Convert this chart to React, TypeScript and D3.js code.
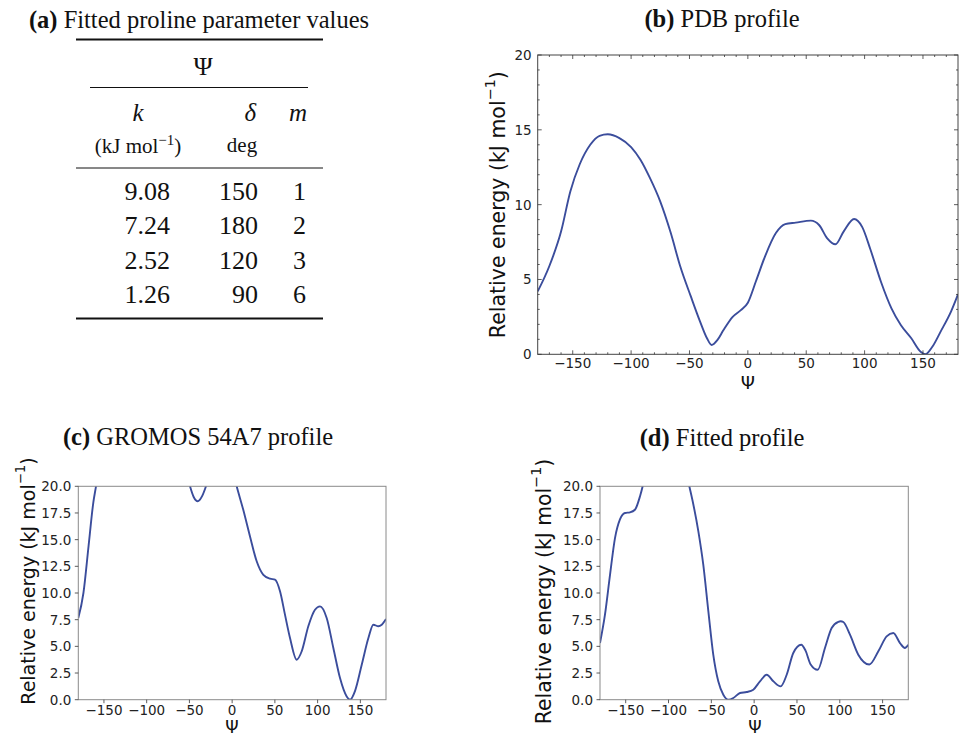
import React from "react";
import * as d3 from "d3";

// ---------- data ----------
const kValues = ["9.08", "7.24", "2.52", "1.26"];
const deltaValues = ["150", "180", "120", "90"];
const mValues = ["1", "2", "3", "6"];

const xTicks = [-150, -100, -50, 0, 50, 100, 150];
const yTicksB = [0, 5, 10, 15, 20];
const yTicksCD = [0, 2.5, 5, 7.5, 10, 12.5, 15, 17.5, 20];

const psiPDB = [-180, -170, -160, -152, -144, -135, -127, -120, -110, -100, -92, -84, -75, -66, -58, -49, -41, -35, -31, -26, -21, -13, -6, 0, 7, 15, 24, 32, 41, 54, 61, 68, 75, 82, 91, 98, 105, 114, 123, 131, 140, 148, 152, 158, 165, 174, 180];
const ePDB = [4.2, 5.9, 8.2, 10.9, 12.7, 14.0, 14.6, 14.7, 14.45, 13.85, 13.0, 11.8, 10.2, 8.1, 5.9, 3.9, 2.2, 1.07, 0.62, 0.96, 1.6, 2.5, 2.95, 3.45, 4.9, 6.6, 8.1, 8.7, 8.8, 8.93, 8.64, 7.75, 7.35, 8.2, 9.04, 8.5, 7.0, 4.85, 3.07, 1.96, 1.07, 0.17, 0, 0.5, 1.5, 2.85, 4.0];

const psiGromos = [-180, -174, -168, -162.4, -159.3, -155, -140, -110, -80, -60, -49.3, -45, -40.3, -35, -30.6, -25, -15, -5, 0, 5.3, 13, 20.9, 28.7, 36.5, 44.3, 50.1, 56, 61.8, 67.7, 75.5, 81.4, 89.1, 96.9, 102.8, 110.6, 118.4, 126.2, 134, 137.9, 143.7, 151.6, 159.4, 165.2, 171.1, 175, 180];
const eGromos = [7.66, 10.0, 14.4, 18.5, 20, 22.3, 27, 31, 29, 24, 20, 19.0, 18.6, 19.1, 20, 21.5, 23.5, 23, 21.7, 20, 17.8, 15.3, 12.97, 11.7, 11.34, 11.25, 10.16, 7.97, 5.78, 3.75, 4.54, 6.88, 8.43, 8.75, 7.66, 4.85, 2.03, 0.31, 0, 0.81, 3.28, 5.78, 7.03, 6.88, 7.03, 7.56];

const psiFit = [-180, -174.2, -168.3, -162.5, -156.7, -150.8, -145, -139.2, -133.3, -130.2, -125, -110, -90, -80, -75.7, -71, -65.2, -59.4, -53.5, -47.7, -41.9, -36, -30.2, -24.3, -16.5, -8.7, -1, 6.8, 14.6, 22.4, 30.9, 38, 45.7, 55, 60, 66, 74.2, 82.7, 90.5, 98.3, 101, 104.1, 111.9, 121.6, 134.5, 145, 154.7, 162.5, 170.3, 176, 180];
const eFit = [5.31, 7.97, 11.7, 15.15, 16.9, 17.5, 17.56, 17.8, 19.06, 20, 22.5, 26, 25, 21.5, 20, 18.3, 15.8, 12.65, 8.3, 4.2, 1.72, 0.47, 0, 0.16, 0.63, 0.72, 0.94, 1.72, 2.34, 1.72, 1.25, 2.34, 4.38, 5.15, 4.6, 3.3, 2.8, 4.85, 6.72, 7.3, 7.35, 7.28, 6.09, 4.22, 3.3, 4.54, 5.94, 6.25, 5.31, 4.85, 5.15];

// ---------- styles ----------
const LINE = "#3b4d9c";
const SERIF = "'Liberation Serif', 'Times New Roman', serif";
const SANS = "'DejaVu Sans', sans-serif";

const fmtX = (v: number) => (v < 0 ? "\u2212" + Math.abs(v) : String(v));

type PanelProps = {
  id: string;
  x0: number; x1: number; y0: number; y1: number;
  psi: number[]; e: number[];
  yTicks: number[]; yFmt: (v: number) => string;
  classic: boolean;
  ylab: { cx: number; cy: number; size: number };
  xlab: { cx: number; cy: number; size: number };
  xTickY: number;
};

function Panel(p: PanelProps) {
  const x = d3.scaleLinear().domain([-180, 180]).range([p.x0, p.x1]);
  const y = d3.scaleLinear().domain([0, 20]).range([p.y1, p.y0]);
  const pts: [number, number][] = p.psi.map((v, i) => [v, p.e[i]]);
  const line = d3
    .line<[number, number]>()
    .x((d) => x(d[0]))
    .y((d) => y(d[1]))
    .curve(d3.curveMonotoneX);
  const tickCol = "#333";
  const frameCol = p.classic ? "#444" : "#8a8a8a";
  const minorX = d3.range(-170, 180, 10).filter((v) => v % 50 !== 0);
  const minorY = d3.range(1, 20, 1).filter((v) => v % 5 !== 0);
  const yAxisLabelX = p.x0 - (p.classic ? 6 : 7);
  return (
    <g>
      <defs>
        <clipPath id={p.id}>
          <rect x={p.x0} y={p.y0} width={p.x1 - p.x0} height={p.y1 - p.y0} />
        </clipPath>
      </defs>
      <path d={line(pts) || ""} fill="none" stroke={LINE} strokeWidth={1.9} clipPath={`url(#${p.id})`} />
      <rect x={p.x0} y={p.y0} width={p.x1 - p.x0} height={p.y1 - p.y0} fill="none" stroke={frameCol} strokeWidth={1} />
      {p.classic ? (
        <g stroke={tickCol} strokeWidth={0.8}>
          {xTicks.map((t) => (
            <g key={"xt" + t}>
              <line x1={x(t)} x2={x(t)} y1={p.y1} y2={p.y1 - 4} />
              <line x1={x(t)} x2={x(t)} y1={p.y0} y2={p.y0 + 4} />
            </g>
          ))}
          {minorX.map((t) => (
            <g key={"xm" + t}>
              <line x1={x(t)} x2={x(t)} y1={p.y1} y2={p.y1 - 2} />
              <line x1={x(t)} x2={x(t)} y1={p.y0} y2={p.y0 + 2} />
            </g>
          ))}
          {p.yTicks.map((t) => (
            <g key={"yt" + t}>
              <line x1={p.x0} x2={p.x0 + 4} y1={y(t)} y2={y(t)} />
              <line x1={p.x1} x2={p.x1 - 4} y1={y(t)} y2={y(t)} />
            </g>
          ))}
          {minorY.map((t) => (
            <g key={"ym" + t}>
              <line x1={p.x0} x2={p.x0 + 2} y1={y(t)} y2={y(t)} />
              <line x1={p.x1} x2={p.x1 - 2} y1={y(t)} y2={y(t)} />
            </g>
          ))}
        </g>
      ) : (
        <g stroke={tickCol} strokeWidth={0.8}>
          {xTicks.map((t) => (
            <line key={"xt" + t} x1={x(t)} x2={x(t)} y1={p.y1} y2={p.y1 + 3.5} />
          ))}
          {p.yTicks.map((t) => (
            <line key={"yt" + t} x1={p.x0} x2={p.x0 - 3.5} y1={y(t)} y2={y(t)} />
          ))}
        </g>
      )}
      <g fontFamily={SANS} fontSize={13.5} fill="#222">
        {xTicks.map((t) => (
          <text key={"xl" + t} x={x(t)} y={p.xTickY} textAnchor="middle" dominantBaseline="central">
            {fmtX(t)}
          </text>
        ))}
        {p.yTicks.map((t) => (
          <text key={"yl" + t} x={yAxisLabelX} y={y(t)} textAnchor="end" dominantBaseline="central">
            {p.yFmt(t)}
          </text>
        ))}
      </g>
      <text
        transform={`translate(${p.ylab.cx},${p.ylab.cy}) rotate(-90)`}
        textAnchor="middle"
        dominantBaseline="central"
        fontFamily={SANS}
        fontSize={p.ylab.size}
        fill="#111"
      >
        <tspan>Relative energy (kJ mol</tspan>
        <tspan dy={-p.ylab.size * 0.4} fontSize={p.ylab.size * 0.7}>{"\u22121"}</tspan>
        <tspan dy={p.ylab.size * 0.4}>)</tspan>
      </text>
      <text x={p.xlab.cx} y={p.xlab.cy} textAnchor="middle" dominantBaseline="central" fontFamily={SANS} fontSize={p.xlab.size} fill="#111">
        Ψ
      </text>
    </g>
  );
}

function Caption({ x, y, tag, text }: { x: number; y: number; tag: string; text: string }) {
  return (
    <text x={x} y={y} textAnchor="middle" fontFamily={SERIF} fontSize={24.5} fill="#111">
      <tspan fontWeight="bold">({tag})</tspan>
      <tspan> {text}</tspan>
    </text>
  );
}

function Table() {
  const rowY = (i: number) => 200 + i * 34.3;
  return (
    <g fontFamily={SERIF} fill="#111">
      <Caption x={199} y={28} tag="a" text="Fitted proline parameter values" />
      <line x1={76} x2={323} y1={39.5} y2={39.5} stroke="#111" strokeWidth={2} />
      <text x={203} y={75} textAnchor="middle" fontSize={26}>Ψ</text>
      <line x1={90} x2={308} y1={87.5} y2={87.5} stroke="#111" strokeWidth={1} />
      <text x={138} y={121} textAnchor="middle" fontSize={25} fontStyle="italic">k</text>
      <text x={256} y={121} textAnchor="end" fontSize={25} fontStyle="italic">δ</text>
      <text x={298} y={121} textAnchor="middle" fontSize={25} fontStyle="italic">m</text>
      <text x={138} y={153} textAnchor="middle" fontSize={21}>
        <tspan>(kJ mol</tspan>
        <tspan dy={-8} fontSize={15}>{"\u22121"}</tspan>
        <tspan dy={8}>)</tspan>
      </text>
      <text x={242} y={152} textAnchor="middle" fontSize={21}>deg</text>
      <line x1={76} x2={323} y1={168} y2={168} stroke="#111" strokeWidth={1} />
      {kValues.map((k, i) => (
        <g key={k} fontSize={26}>
          <text x={170} y={rowY(i)} textAnchor="end">{k}</text>
          <text x={258} y={rowY(i)} textAnchor="end">{deltaValues[i]}</text>
          <text x={306} y={rowY(i)} textAnchor="end">{mValues[i]}</text>
        </g>
      ))}
      <line x1={76} x2={323} y1={318.5} y2={318.5} stroke="#111" strokeWidth={2} />
    </g>
  );
}

export default function App() {
  return (
    <svg width={959} height={736} style={{ position: "absolute", left: 0, top: 0, background: "#fff" }}>
      <rect width={959} height={736} fill="#fff" />
      <Table />
      <Caption x={722} y={27} tag="b" text="PDB profile" />
      <Panel
        id="clipB"
        x0={537.7} x1={958} y0={55} y1={354.3}
        psi={psiPDB} e={ePDB}
        yTicks={yTicksB} yFmt={(v) => String(v)}
        classic={true}
        ylab={{ cx: 498, cy: 204.7, size: 20.5 }}
        xlab={{ cx: 747.8, cy: 382, size: 18 }}
        xTickY={363}
      />
      <Caption x={198} y={445} tag="c" text="GROMOS 54A7 profile" />
      <Panel
        id="clipC"
        x0={78.3} x1={386} y0={486.3} y1={699.7}
        psi={psiGromos} e={eGromos}
        yTicks={yTicksCD} yFmt={(v) => v.toFixed(1)}
        classic={false}
        ylab={{ cx: 28, cy: 581, size: 19 }}
        xlab={{ cx: 232, cy: 726.5, size: 17 }}
        xTickY={710}
      />
      <Caption x={722} y={446} tag="d" text="Fitted profile" />
      <Panel
        id="clipD"
        x0={600} x1={908.3} y0={486.3} y1={699.7}
        psi={psiFit} e={eFit}
        yTicks={yTicksCD} yFmt={(v) => v.toFixed(1)}
        classic={false}
        ylab={{ cx: 544, cy: 591.5, size: 20.4 }}
        xlab={{ cx: 755, cy: 727, size: 17 }}
        xTickY={710}
      />
    </svg>
  );
}
